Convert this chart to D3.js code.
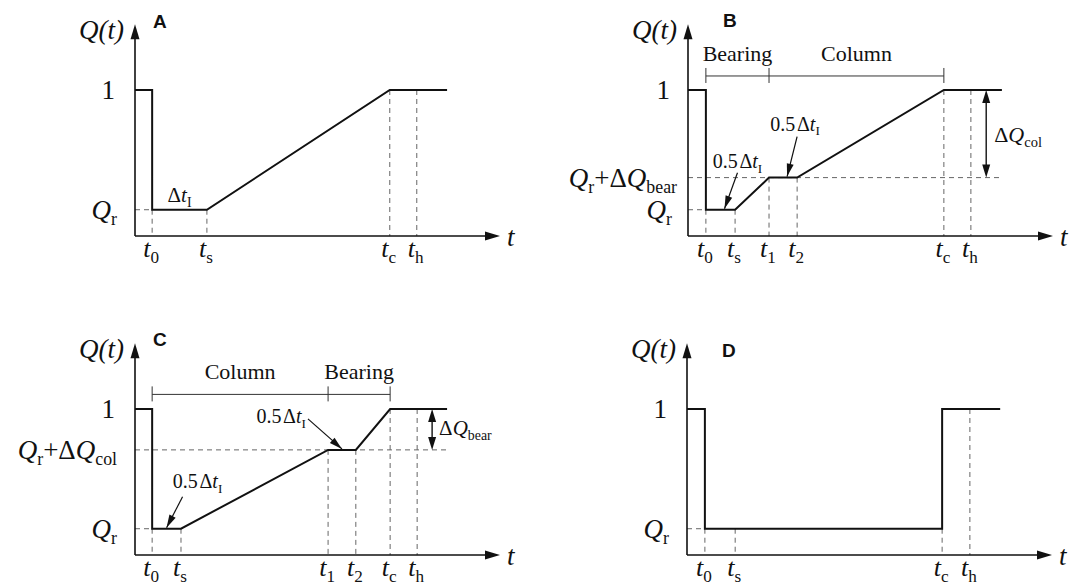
<!DOCTYPE html>
<html>
<head>
<meta charset="utf-8">
<script src="https://cdn.jsdelivr.net/npm/d3@7"></script>
<style>
  html, body { margin: 0; padding: 0; background: #fff; }
  svg { display: block; }
  .panel-id { font-weight: bold; }
</style>
</head>
<body>
<svg id="chart" width="1069" height="585"></svg>
<script>
const SERIF = "'Liberation Serif', 'Times New Roman', Tinos, 'DejaVu Serif', serif";
const SANS = "'Liberation Sans', Arial, Arimo, sans-serif";

// ---- normalised levels of Q(t) ----
const Q_FULL = 1.0;
const Q_R = 0.18;
const Q_BEAR = 0.40;   // Q_r + ΔQ_bear (panel B)
const Q_COL = 0.72;    // Q_r + ΔQ_col  (panel C)

// ---- panel A: single recovery ramp ----
const tickTimesA  = [4.7, 19.7, 69.8, 77.2];
const tickSubsA   = ["0", "s", "c", "h"];
const tickLevelsA = [Q_R, Q_R, Q_FULL, Q_FULL];
const signalTimesA  = [0, 4.7, 4.7, 19.7, 69.8, 85.5];
const signalLevelsA = [Q_FULL, Q_FULL, Q_R, Q_R, Q_FULL, Q_FULL];

// ---- panel B: bearing first, then column ----
const tickTimesB  = [4.9, 12.9, 22.2, 29.9, 70.1, 77.5];
const tickSubsB   = ["0", "s", "1", "2", "c", "h"];
const tickLevelsB = [Q_R, Q_R, Q_BEAR, Q_BEAR, Q_FULL, Q_FULL];
const signalTimesB  = [0, 4.9, 4.9, 12.9, 22.2, 29.9, 70.1, 86.0];
const signalLevelsB = [Q_FULL, Q_FULL, Q_R, Q_R, Q_BEAR, Q_BEAR, Q_FULL, Q_FULL];
const phaseNamesB  = ["Bearing", "Column"];
const phaseBoundsB = [4.9, 22.2, 70.1];

// ---- panel C: column first, then bearing ----
const tickTimesC  = [4.7, 12.6, 52.9, 60.5, 69.9, 77.3];
const tickSubsC   = ["0", "s", "1", "2", "c", "h"];
const tickLevelsC = [Q_R, Q_R, Q_COL, Q_COL, Q_FULL, Q_FULL];
const signalTimesC  = [0, 4.7, 4.7, 12.6, 52.9, 60.5, 69.9, 85.5];
const signalLevelsC = [Q_FULL, Q_FULL, Q_R, Q_R, Q_COL, Q_COL, Q_FULL, Q_FULL];
const phaseNamesC  = ["Column", "Bearing"];
const phaseBoundsC = [4.7, 52.9, 69.9];

// ---- panel D: step recovery ----
const tickTimesD  = [4.9, 13.2, 69.9, 77.5];
const tickSubsD   = ["0", "s", "c", "h"];
const tickLevelsD = [Q_R, Q_R, Q_R, Q_FULL];
const signalTimesD  = [0, 4.9, 4.9, 69.9, 69.9, 85.8];
const signalLevelsD = [Q_FULL, Q_FULL, Q_R, Q_R, Q_FULL, Q_FULL];

// ---- rich-text label definitions ----
const LBL_ONE   = [{s: "1"}];
const LBL_QR    = [{s: "Q", it: true}, {s: "r", sub: true}];
const LBL_QBEAR = [{s: "Q", it: true}, {s: "r", sub: true}, {s: "+Δ"}, {s: "Q", it: true}, {s: "bear", sub: true}];
const LBL_QCOL  = [{s: "Q", it: true}, {s: "r", sub: true}, {s: "+Δ"}, {s: "Q", it: true}, {s: "col", sub: true}];
const LBL_DTI   = [{s: "Δ"}, {s: "t", it: true}, {s: "I", sub: true}];
const LBL_HALF  = [{s: "0.5"}, {s: "\u200AΔ"}, {s: "t", it: true}, {s: "I", sub: true}];
const LBL_DQCOL  = [{s: "Δ"}, {s: "Q", it: true}, {s: "col", sub: true}];
const LBL_DQBEAR = [{s: "Δ"}, {s: "Q", it: true}, {s: "bear", sub: true}];

// ---- panel configuration (layout + data references) ----
const panels = [
  { id: "A", ox: 135, oy: 236, idDx: 18, idDy: -208,
    ticks: tickTimesA, subs: tickSubsA, tickLv: tickLevelsA,
    sigT: signalTimesA, sigQ: signalLevelsA,
    levelLabels: [{v: Q_FULL, parts: LBL_ONE, dx: -20}, {v: Q_R, parts: LBL_QR, dx: -18}],
    refLine: null, phases: null, delta: null,
    intervalLabel: {a: 0, b: 1, v: Q_R, parts: LBL_DTI},
    notes: [] },
  { id: "B", ox: 688, oy: 236, idDx: 35, idDy: -209,
    ticks: tickTimesB, subs: tickSubsB, tickLv: tickLevelsB,
    sigT: signalTimesB, sigQ: signalLevelsB,
    levelLabels: [{v: Q_FULL, parts: LBL_ONE, dx: -18}, {v: Q_BEAR, parts: LBL_QBEAR, dx: -11}, {v: Q_R, parts: LBL_QR, dx: -16}],
    refLine: {v: Q_BEAR, to: 86.3},
    phases: {names: phaseNamesB, bounds: phaseBoundsB, v: 1.096},
    delta: {t: 81.7, from: Q_BEAR, to: Q_FULL, parts: LBL_DQCOL, size: 22, lx: 8, ly: 8},
    intervalLabel: null,
    notes: [
      {a: 0, b: 1, v: Q_R, tipDx: 4, tailDx: 13, tailDy: -36, anchor: "middle", tx: 0, ty: -5},
      {a: 2, b: 3, v: Q_BEAR, tipDx: 4, tailDx: 10, tailDy: -40, anchor: "middle", tx: -2, ty: -6}
    ] },
  { id: "C", ox: 135, oy: 555, idDx: 18, idDy: -209,
    ticks: tickTimesC, subs: tickSubsC, tickLv: tickLevelsC,
    sigT: signalTimesC, sigQ: signalLevelsC,
    levelLabels: [{v: Q_FULL, parts: LBL_ONE, dx: -20}, {v: Q_COL, parts: LBL_QCOL, dx: -18}, {v: Q_R, parts: LBL_QR, dx: -18}],
    refLine: {v: Q_COL, to: 86.3},
    phases: {names: phaseNamesC, bounds: phaseBoundsC, v: 1.10},
    delta: {t: 81.4, from: Q_COL, to: Q_FULL, parts: LBL_DQBEAR, size: 21, lx: 7, ly: 6},
    intervalLabel: null,
    notes: [
      {a: 0, b: 1, v: Q_R, tipDx: 0, tailDx: 16, tailDy: -31, anchor: "middle", tx: 15, ty: -9},
      {a: 2, b: 3, v: Q_COL, tipDx: 0, tailDx: -34, tailDy: -30, anchor: "end", tx: -2, ty: 4}
    ] },
  { id: "D", ox: 687, oy: 555, idDx: 35, idDy: -198,
    ticks: tickTimesD, subs: tickSubsD, tickLv: tickLevelsD,
    sigT: signalTimesD, sigQ: signalLevelsD,
    levelLabels: [{v: Q_FULL, parts: LBL_ONE, dx: -20}, {v: Q_R, parts: LBL_QR, dx: -18}],
    refLine: null, phases: null, delta: null, intervalLabel: null,
    notes: [] }
];

// ---- scales shared by every panel (coordinates local to each panel's origin) ----
const X_MAX = 100, Y_MAX = 1.45;
const x = d3.scaleLinear().domain([0, X_MAX]).range([0, 365]);
const y = d3.scaleLinear().domain([0, 1]).range([0, -146]);

const svg = d3.select("#chart");
svg.append("rect").attr("width", 1069).attr("height", 585).attr("fill", "#fff");

// text with italic / subscript runs
function rich(g, px, py, parts, size, anchor) {
  const text = g.append("text").attr("x", px).attr("y", py)
    .attr("font-family", SERIF).attr("fill", "#111")
    .attr("font-size", size).attr("text-anchor", anchor || "start");
  let shift = 0;
  parts.forEach(p => {
    const ts = text.append("tspan").text(p.s);
    const target = p.sub ? size * 0.24 : 0;
    if (target !== shift) { ts.attr("dy", target - shift); shift = target; }
    if (p.sub) ts.attr("font-size", size * 0.66);
    if (p.it) ts.attr("font-style", "italic");
  });
  return text;
}

// filled triangular arrow head with its tip at (x2, y2)
function head(g, x1, y1, x2, y2, len, half) {
  const a = Math.atan2(y2 - y1, x2 - x1);
  const bx = x2 - len * Math.cos(a), by = y2 - len * Math.sin(a);
  const nx = -Math.sin(a) * half, ny = Math.cos(a) * half;
  g.append("path")
    .attr("d", `M${x2},${y2}L${bx + nx},${by + ny}L${bx - nx},${by - ny}Z`)
    .attr("fill", "#111");
}

const line = d3.line().x(d => x(d[0])).y(d => y(d[1]));
const DASH = "5,4";

panels.forEach(p => {
  const g = svg.append("g").attr("transform", `translate(${p.ox},${p.oy})`);

  // horizontal dashed guide at Q_r up to t0
  g.append("line").attr("x1", 0).attr("x2", x(p.ticks[0]))
    .attr("y1", y(Q_R)).attr("y2", y(Q_R))
    .attr("stroke", "#666").attr("stroke-width", 1).attr("stroke-dasharray", DASH);

  // intermediate level guide line
  if (p.refLine) {
    g.append("line").attr("x1", 0).attr("x2", x(p.refLine.to))
      .attr("y1", y(p.refLine.v)).attr("y2", y(p.refLine.v))
      .attr("stroke", "#666").attr("stroke-width", 1).attr("stroke-dasharray", DASH);
  }

  // vertical dashed drop lines at each time instant
  g.selectAll(".drop").data(p.ticks.map((t, i) => ({t, v: p.tickLv[i]})))
    .join("line").attr("class", "drop")
    .attr("x1", d => x(d.t)).attr("x2", d => x(d.t))
    .attr("y1", d => y(d.v)).attr("y2", 0)
    .attr("stroke", "#666").attr("stroke-width", 1).attr("stroke-dasharray", DASH);

  // axes
  const yTop = y(Y_MAX);
  g.append("line").attr("x1", 0).attr("y1", 0).attr("x2", 0).attr("y2", yTop + 10)
    .attr("stroke", "#111").attr("stroke-width", 1.6);
  head(g, 0, 0, 0, yTop, 15, 4.5);
  g.append("line").attr("x1", 0).attr("y1", 0).attr("x2", x(X_MAX) - 10).attr("y2", 0)
    .attr("stroke", "#111").attr("stroke-width", 1.6);
  head(g, 0, 0, x(X_MAX), 0, 15, 4.5);

  // axis titles
  rich(g, -11, yTop + 15, [{s: "Q(t)", it: true}], 27, "end");
  rich(g, x(X_MAX) + 7, 10, [{s: "t", it: true}], 27, "start");

  // panel letter
  g.append("text").attr("class", "panel-id").attr("x", p.idDx).attr("y", p.idDy)
    .attr("font-family", SANS).attr("fill", "#111")
    .attr("font-size", 19).text(p.id);

  // level labels on the Q axis
  p.levelLabels.forEach(l => rich(g, l.dx, y(l.v) + 9, l.parts, 27, "end"));

  // time labels on the t axis
  p.ticks.forEach((t, i) =>
    rich(g, x(t) - 1, 21, [{s: "t", it: true}, {s: p.subs[i], sub: true}], 26, "middle"));

  // phase bracket (Bearing / Column)
  if (p.phases) {
    const by = y(p.phases.v), b = p.phases.bounds;
    g.append("line").attr("x1", x(b[0])).attr("x2", x(b[b.length - 1]))
      .attr("y1", by).attr("y2", by).attr("stroke", "#333").attr("stroke-width", 1);
    b.forEach(t => g.append("line").attr("x1", x(t)).attr("x2", x(t))
      .attr("y1", by - 8).attr("y2", by + 7).attr("stroke", "#333").attr("stroke-width", 1));
    p.phases.names.forEach((n, i) => {
      g.append("text").attr("x", x((b[i] + b[i + 1]) / 2)).attr("y", by - 15)
        .attr("font-family", SERIF).attr("fill", "#111")
        .attr("text-anchor", "middle").attr("font-size", 22).text(n);
    });
  }

  // the Q(t) recovery signal
  g.append("path").datum(p.sigT.map((t, i) => [t, p.sigQ[i]]))
    .attr("d", line).attr("fill", "none")
    .attr("stroke", "#111").attr("stroke-width", 2).attr("stroke-linejoin", "miter");

  // interval label without arrow
  if (p.intervalLabel) {
    const il = p.intervalLabel;
    const mx = x((p.ticks[il.a] + p.ticks[il.b]) / 2);
    rich(g, mx, y(il.v) - 8, il.parts, 21, "middle");
  }

  // 0.5Δt_I annotations with pointers
  p.notes.forEach(n => {
    const tipX = x((p.ticks[n.a] + p.ticks[n.b]) / 2) + n.tipDx, tipY = y(n.v) - 1;
    const tx = tipX + n.tailDx, ty = tipY + n.tailDy;
    g.append("line").attr("x1", tx).attr("y1", ty).attr("x2", tipX).attr("y2", tipY)
      .attr("stroke", "#111").attr("stroke-width", 1.2);
    head(g, tx, ty, tipX, tipY, 13, 3.5);
    rich(g, tx + n.tx, ty + n.ty, LBL_HALF, 20, n.anchor);
  });

  // ΔQ double-headed dimension arrow
  if (p.delta) {
    const d = p.delta, dx = x(d.t), y1 = y(d.to), y2 = y(d.from);
    g.append("line").attr("x1", dx).attr("x2", dx).attr("y1", y1 + 8).attr("y2", y2 - 8)
      .attr("stroke", "#111").attr("stroke-width", 1.4);
    head(g, dx, y2, dx, y1, 13, 4);
    head(g, dx, y1, dx, y2, 13, 4);
    rich(g, dx + d.lx, (y1 + y2) / 2 + d.ly, d.parts, d.size, "start");
  }
});
</script>
</body>
</html>
